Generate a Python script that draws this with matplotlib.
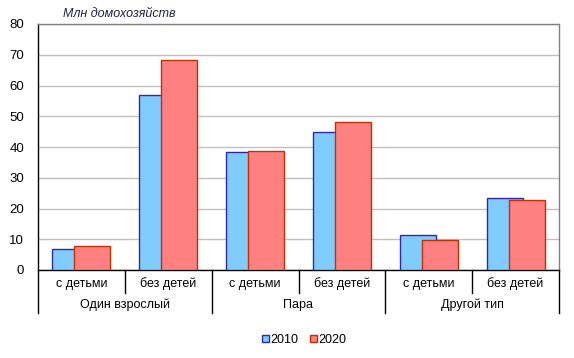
import matplotlib
matplotlib.use("Agg")
import matplotlib.pyplot as plt
from matplotlib.patches import Patch
from matplotlib.transforms import blended_transform_factory
import numpy as np

plt.rcParams['font.family'] = ['Liberation Sans', 'DejaVu Sans']

subcats = ["с детьми", "без детей", "с детьми", "без детей", "с детьми", "без детей"]
groups = ["Один взрослый", "Пара", "Другой тип"]
series_names = ["2010", "2020"]
vals_2010 = [6.8, 56.9, 38.4, 44.9, 11.4, 23.4]
vals_2020 = [7.8, 68.3, 38.7, 48.1, 9.8, 22.8]
yticks = [0, 10, 20, 30, 40, 50, 60, 70, 80]

fig = plt.figure(figsize=(5.74, 3.58), dpi=100)
ax = fig.add_axes([38/574, 1-270/358, (559-38)/574, (270-24)/358])

x = np.arange(len(subcats))
w = 0.415
off = 0.127
ax.bar(x - off, vals_2010, width=w, color='#80CCFF', edgecolor='#2A2AAA', linewidth=1.0, zorder=3)
ax.bar(x + off, vals_2020, width=w, color='#FF8080', edgecolor='#C03000', linewidth=1.0, zorder=4)

ax.set_xlim(-0.5, len(subcats) - 0.5)
ax.set_ylim(0, 80)
ax.set_yticks(yticks)
ax.tick_params(axis='y', length=0, pad=10, labelsize=9.5)
ax.set_xticks([])
ax.yaxis.grid(True, color='#C0C0C0', linewidth=1.0, zorder=0)
ax.set_axisbelow(True)
for s in ['top', 'right']:
    ax.spines[s].set_color('#808080')
    ax.spines[s].set_linewidth(1.0)
for s in ['left', 'bottom']:
    ax.spines[s].set_color('black')
    ax.spines[s].set_linewidth(1.0)

trans = blended_transform_factory(ax.transData, ax.transAxes)
y1 = -(293-270)/246
y2 = -(313-270)/246
for i in range(len(subcats) + 1):
    b = i - 0.5
    yb = y2 if i % 2 == 0 else y1
    ax.plot([b, b], [0, yb], transform=trans, color='black', linewidth=1.0, clip_on=False)
for i, lab in enumerate(subcats):
    ax.text(i, -(284-270)/246, lab, transform=trans, ha='center', va='center', fontsize=9)
for g, lab in enumerate(groups):
    ax.text(2*g + 0.5, -(305-270)/246, lab, transform=trans, ha='center', va='center', fontsize=9)

fig.text(63/574, 1-14/358, "Млн домохозяйств", fontsize=9, style='italic', color='#222244', ha='left', va='center')

handles = [Patch(facecolor='#80CCFF', edgecolor='#2A2AAA', linewidth=1.0),
           Patch(facecolor='#FF8080', edgecolor='#C03000', linewidth=1.0)]
fig.legend(handles, series_names, loc='center', bbox_to_anchor=(304/574, 18/358), ncol=2,
           frameon=False, fontsize=9, handlelength=0.55, handleheight=0.55, handletextpad=0.15,
           columnspacing=0.9)

fig.savefig("out.png", dpi=100)
